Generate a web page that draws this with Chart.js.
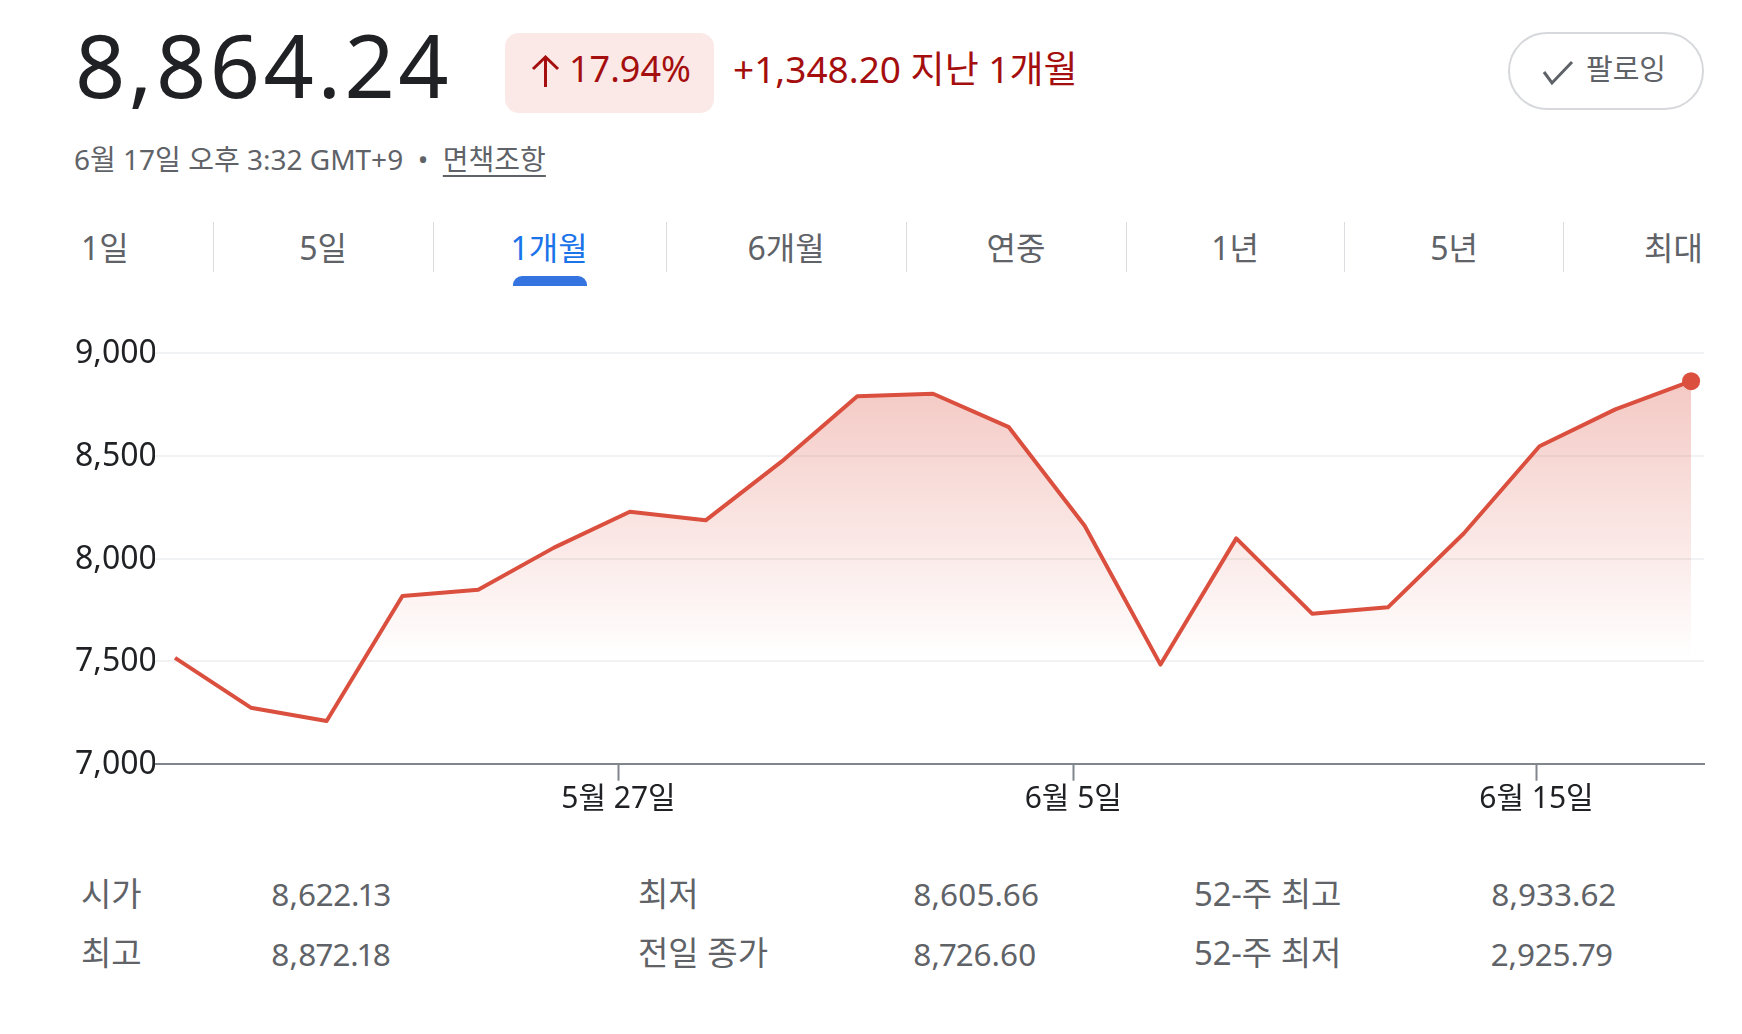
<!DOCTYPE html>
<html lang="ko">
<head>
<meta charset="utf-8">
<script src="https://cdn.jsdelivr.net/npm/chart.js@4/dist/chart.umd.min.js"></script>
<style>
  html, body { margin: 0; padding: 0; background: #fff; }
  body { width: 1742px; height: 1034px; position: relative; overflow: hidden;
         font-family: 'Noto Sans', 'Noto Sans CJK KR', sans-serif; }
  .t { position: absolute; white-space: nowrap; line-height: 1; }
  .sep { position: absolute; top: 222px; width: 1px; height: 50px; background: #dadce0; }
  .tab { position: absolute; top: 232px; width: 200px; text-align: center; font-size: 32px; color: #5f6368; line-height: 1; }
  .st { position: absolute; font-size: 31.5px; color: #5f6368; line-height: 1; white-space: nowrap; top: 878px;
        font-variant-numeric: proportional-nums; }
  .st.r2 { top: 938px; }
  .st.k { font-size: 33px; top: 876.5px; }
  .st.k.r2 { top: 935.5px; }
</style>
</head>
<body>
<div class="t" style="left:75px; top:20px; font-size:88px; color:#202124; letter-spacing:3.5px;">8,864.24</div>

<div style="position:absolute; left:505px; top:33px; width:209px; height:80px; border-radius:14px; background:#fbe9e7;"></div>
<svg style="position:absolute; left:530px; top:54px;" width="32" height="36" viewBox="0 0 32 36">
  <path d="M15.5 4 V33 M3 15 L15.5 3 L28 15" fill="none" stroke="#a50e0e" stroke-width="3" stroke-linecap="butt"/>
</svg>
<div class="t" style="left:569px; top:51px; font-size:36px; color:#a50e0e;">17.94%</div>
<div class="t" style="left:733px; top:50px; font-size:37px; color:#a50e0e;">+1,348.20 지난 1개월</div>

<div style="position:absolute; left:1508px; top:32px; width:192px; height:74px; border:2px solid #d6d8db; border-radius:40px;"></div>
<svg style="position:absolute; left:1540px; top:58px;" width="36" height="30" viewBox="0 0 36 30">
  <path d="M4 14 L12 25 L32 4" fill="none" stroke="#5f6368" stroke-width="3"/>
</svg>
<div class="t" style="left:1586px; top:54px; font-size:29px; color:#5f6368;">팔로잉</div>

<div class="t" style="left:74px; top:145px; font-size:28px; color:#5f6368;">6월 17일 오후 3:32 GMT+9 &nbsp;•&nbsp; <span style="text-decoration:underline; text-underline-offset:5px;">면책조항</span></div>

<div class="tab" style="left:81px; width:auto; text-align:left;">1일</div>
<div class="tab" style="left:223px;">5일</div>
<div class="tab" style="left:449px; color:#1a73e8;">1개월</div>
<div class="tab" style="left:686px;">6개월</div>
<div class="tab" style="left:916px;">연중</div>
<div class="tab" style="left:1135px;">1년</div>
<div class="tab" style="left:1354px;">5년</div>
<div class="tab" style="left:1503px; text-align:right;">최대</div>
<div class="sep" style="left:213px;"></div>
<div class="sep" style="left:433px;"></div>
<div class="sep" style="left:666px;"></div>
<div class="sep" style="left:906px;"></div>
<div class="sep" style="left:1126px;"></div>
<div class="sep" style="left:1344px;"></div>
<div class="sep" style="left:1563px;"></div>
<div style="position:absolute; left:513px; top:276px; width:74px; height:10px; border-radius:9px 9px 0 0; background:#3473e0;"></div>

<canvas id="c" width="1742" height="530" style="position:absolute; left:0; top:300px;"></canvas>

<div class="st k" style="left:81px;">시가</div>
<div class="st" style="left:271px;">8,622.13</div>
<div class="st k" style="left:638px;">최저</div>
<div class="st" style="left:913px;">8,605.66</div>
<div class="st k" style="left:1194px;">52-주 최고</div>
<div class="st" style="left:1491px;">8,933.62</div>
<div class="st k r2" style="left:81px;">최고</div>
<div class="st r2" style="left:271px;">8,872.18</div>
<div class="st k r2" style="left:638px;">전일 종가</div>
<div class="st r2" style="left:913px;">8,726.60</div>
<div class="st k r2" style="left:1194px;">52-주 최저</div>
<div class="st r2" style="left:1491px;">2,925.79</div>

<script>
// ---- data ----
const values = [7516.04, 7273, 7208, 7817, 7848, 8053, 8228, 8186, 8472, 8791, 8803,
                8640, 8160, 7483, 8098, 7731, 7762, 8122, 8547, 8726.60, 8864.24];
const xTickIndex = [5.85, 11.85, 17.96];
const xTickLabels = ['5월 27일', '6월 5일', '6월 15일'];
const yTicks = [7000, 7500, 8000, 8500, 9000];

const RED = '#db4f3f';
const FONT = "'Noto Sans', 'Noto Sans CJK KR', sans-serif";
const last = values.length - 1;

new Chart(document.getElementById('c'), {
  type: 'line',
  data: {
    datasets: [{
      data: values.map((v, i) => ({ x: i, y: v })),
      borderColor: RED,
      borderWidth: 4,
      borderJoinStyle: 'round',
      tension: 0,
      pointRadius: ctx => ctx.dataIndex === last ? 9 : 0,
      pointHoverRadius: ctx => ctx.dataIndex === last ? 9 : 0,
      pointBackgroundColor: RED,
      pointBorderWidth: 0,
      fill: { value: values[0] },
      backgroundColor: ctx => {
        const chart = ctx.chart;
        if (!chart.chartArea) return 'rgba(219,79,63,0.1)';
        const y = chart.scales.y;
        const top = y.getPixelForValue(Math.max(...values));
        const bot = y.getPixelForValue(values[0]);
        const g = chart.ctx.createLinearGradient(0, top, 0, bot);
        g.addColorStop(0, 'rgba(219,79,63,0.31)');
        g.addColorStop(1, 'rgba(219,79,63,0.0)');
        return g;
      }
    }]
  },
  options: {
    responsive: false,
    animation: false,
    events: [],
    layout: { padding: { top: 53.3, right: 38, left: 75, bottom: 0 } },
    plugins: { legend: { display: false }, tooltip: { enabled: false } },
    scales: {
      x: {
        type: 'linear',
        min: -0.264,
        max: 20.17,
        afterFit: s => { s.height = 66.3; },
        afterBuildTicks: s => { s.ticks = xTickIndex.map(v => ({ value: v })); },
        ticks: {
          autoSkip: false, maxRotation: 0, minRotation: 0,
          callback: (v, i) => xTickLabels[i],
          font: { family: FONT, size: 30 },
          color: '#202124',
          padding: 1
        },
        grid: { drawOnChartArea: false, drawTicks: true, tickLength: 17, tickColor: '#80868b', tickWidth: 2 },
        border: { display: true, color: '#80868b', width: 2 }
      },
      y: {
        min: 7000,
        max: 9000,
        afterFit: s => { s.width = 80; },
        afterBuildTicks: s => { s.ticks = yTicks.map(v => ({ value: v })); },
        ticks: {
          callback: v => v.toLocaleString('en-US'),
          font: { family: FONT, size: 32 },
          color: '#202124',
          crossAlign: 'far',
          padding: 5,
          labelOffset: 1
        },
        grid: { color: '#f1f2f3', lineWidth: 2, drawTicks: false },
        border: { display: false }
      }
    }
  }
});
</script>
</body>
</html>
